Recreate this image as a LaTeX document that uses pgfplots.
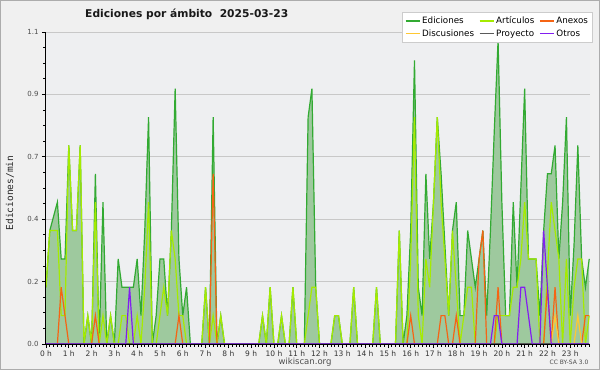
\documentclass[border=0pt]{standalone}
\usepackage{pgfplots}
\pgfplotsset{compat=1.18}
\usepackage{pgfplotstable}
\usepackage{fontspec}
\setmainfont{DejaVu Sans}
\newfontfamily\monofont{DejaVu Sans Mono}
\definecolor{bgout}{RGB}{240,240,240}
\definecolor{bgin}{RGB}{238,239,241}
\definecolor{cEd}{RGB}{50,170,50}
\definecolor{cFill}{RGB}{158,201,158}
\definecolor{cArt}{RGB}{165,235,0}
\definecolor{cAnx}{RGB}{245,100,20}
\definecolor{cDis}{RGB}{255,200,50}
\definecolor{cPro}{RGB}{90,90,90}
\definecolor{cOtr}{RGB}{130,30,240}
\definecolor{gridc}{RGB}{200,200,200}
\definecolor{shadowc}{RGB}{128,128,128}

\pgfplotstableread{
i ed art anx dis pro otr
0 0.2 0.2 0 0 0 0
1 0.4 0.4 0 0 0 0
2 0.45 0.4 0 0 0 0
3 0.5 0.4 0 0 0 0
4 0.3 0.1 0.2 0 0 0
5 0.3 0.1 0.1 0 0 0
6 0.7 0.7 0 0 0 0
7 0.4 0.4 0 0 0 0
8 0.4 0.4 0 0 0 0
9 0.7 0.7 0 0 0 0
10 0 0 0 0 0 0
11 0.1 0.1 0 0 0 0
12 0 0 0 0 0 0
13 0.6 0.5 0.1 0 0 0
14 0 0 0 0 0 0
15 0.5 0.1 0 0 0 0
16 0 0 0 0 0 0
17 0.1 0.1 0 0 0 0
18 0 0 0 0 0 0
19 0.3 0 0 0 0 0
20 0.2 0.1 0 0 0 0
21 0.2 0.1 0 0 0 0
22 0.2 0 0 0 0 0.2
23 0.2 0 0 0 0 0
24 0.3 0.1 0 0 0 0
25 0.1 0 0 0 0 0
26 0.4 0.2 0 0 0 0
27 0.8 0.5 0 0 0 0
28 0 0 0 0 0 0
29 0.1 0 0 0 0 0
30 0.3 0.1 0 0 0 0
31 0.3 0.2 0 0 0 0
32 0.1 0.1 0 0 0 0
33 0.4 0.4 0 0 0 0
34 0.9 0.3 0 0 0 0
35 0.3 0.1 0.1 0 0 0
36 0.1 0.1 0 0 0 0
37 0.2 0 0 0 0 0
38 0 0 0 0 0 0
39 0 0 0 0 0 0
40 0 0 0 0 0 0
41 0 0 0 0 0 0
42 0.2 0.2 0 0 0 0
43 0 0 0 0 0 0
44 0.8 0.1 0.6 0 0 0
45 0 0 0 0 0 0
46 0.1 0.1 0 0 0 0
47 0 0 0 0 0 0
48 0 0 0 0 0 0
49 0 0 0 0 0 0
50 0 0 0 0 0 0
51 0 0 0 0 0 0
52 0 0 0 0 0 0
53 0 0 0 0 0 0
54 0 0 0 0 0 0
55 0 0 0 0 0 0
56 0 0 0 0 0 0
57 0.1 0.1 0 0 0 0
58 0 0 0 0 0 0
59 0.2 0.2 0 0 0 0
60 0 0 0 0 0 0
61 0 0 0 0 0 0
62 0.1 0.1 0 0 0 0
63 0 0 0 0 0 0
64 0 0 0 0 0 0
65 0.2 0.2 0 0 0 0
66 0 0 0 0 0 0
67 0 0 0 0 0 0
68 0 0 0 0 0 0
69 0.8 0.1 0 0 0 0
70 0.9 0.2 0 0 0 0
71 0.2 0.2 0 0 0 0
72 0 0 0 0 0 0
73 0 0 0 0 0 0
74 0 0 0 0 0 0
75 0 0 0 0 0 0
76 0.1 0.1 0 0 0 0
77 0.1 0.1 0 0 0 0
78 0 0 0 0 0 0
79 0 0 0 0 0 0
80 0 0 0 0 0 0
81 0.2 0.2 0 0 0 0
82 0 0 0 0 0 0
83 0 0 0 0 0 0
84 0 0 0 0 0 0
85 0 0 0 0 0 0
86 0 0 0 0 0 0
87 0.2 0.2 0 0 0 0
88 0 0 0 0 0 0
89 0 0 0 0 0 0
90 0 0 0 0 0 0
91 0 0 0 0 0 0
92 0 0 0 0 0 0
93 0.4 0.4 0 0 0 0
94 0 0 0 0 0 0
95 0.1 0 0 0 0 0
96 0.4 0.3 0.1 0 0 0
97 1.0 0.8 0 0 0 0
98 0.2 0.1 0 0 0 0
99 0.1 0 0 0 0 0
100 0.6 0.3 0 0 0 0
101 0.3 0.2 0 0 0 0
102 0.5 0.5 0 0 0 0
103 0.8 0.8 0 0 0 0
104 0.6 0.5 0.1 0 0 0
105 0.35 0.3 0.1 0 0 0
106 0.1 0.1 0 0 0 0
107 0.4 0.4 0 0 0 0
108 0.5 0.2 0.1 0 0 0
109 0.1 0 0 0 0 0
110 0.1 0.1 0 0 0 0
111 0.4 0.2 0 0 0 0
112 0.3 0.2 0 0 0 0
113 0.2 0 0 0 0 0
114 0.3 0 0.3 0 0 0
115 0.4 0 0.4 0 0 0
116 0.1 0 0 0 0 0
117 0.4 0 0 0 0 0
118 0.75 0 0 0 0 0.1
119 1.07 0.1 0.2 0 0 0.1
120 0.5 0.1 0 0 0 0
121 0.1 0.1 0 0 0 0
122 0.1 0.1 0 0 0 0
123 0.5 0.2 0 0 0 0
124 0.2 0.2 0 0 0 0
125 0.55 0.3 0 0 0 0.2
126 0.9 0.5 0 0 0 0.2
127 0.3 0.3 0 0 0 0.1
128 0.3 0.3 0 0 0 0
129 0.3 0.3 0 0 0 0
130 0.1 0 0 0 0 0
131 0.4 0 0 0 0 0.4
132 0.6 0.25 0.2 0 0 0.2
133 0.6 0.5 0 0 0 0
134 0.7 0.4 0.2 0.1 0 0
135 0.3 0.3 0 0 0 0
136 0.5 0 0 0 0 0
137 0.8 0.3 0 0 0 0
138 0.1 0 0 0 0 0
139 0.35 0.2 0 0 0 0
140 0.7 0.3 0 0.1 0 0
141 0.3 0.3 0 0 0 0
142 0.2 0 0.1 0 0 0
143 0.3 0.1 0.1 0 0 0
}\data

\begin{document}
\begin{tikzpicture}[x=1pt,y=1pt]
\fill[bgout] (0,0) rectangle (600,370);
\draw[gray!65, line width=1.2pt] (0.6,0.6) rectangle (599.4,369.4);
\fill[shadowc] (401.7,328.2) rectangle (590.1,355.1);
\begin{axis}[
  at={(46pt,26pt)}, anchor=south west,
  scale only axis, width=544pt, height=312pt,
  xmin=0, xmax=143.2, ymin=0, ymax=1.1,
  axis background/.style={fill=bgin},
  axis on top,
  axis lines=left, axis line style={-, black, line width=1pt},
  tick align=outside,
  major tick length=4pt, minor tick length=2.5pt,
  tick style={black, line width=0.7pt},
  xtick={0,6,...,138},
  xticklabels={0 h,1 h,2 h,3 h,4 h,5 h,6 h,7 h,8 h,9 h,10 h,11 h,12 h,13 h,14 h,15 h,16 h,17 h,18 h,19 h,20 h,21 h,22 h,23 h},
  minor xtick={0,1,...,143},
  ytick={0,0.22,0.44,0.66,0.88,1.1},
  yticklabels={0.0,0.2,0.4,0.7,0.9,1.1},
  minor y tick num=3,
  xticklabel style={font=\fontsize{7.5}{8}\selectfont, text=black!80, yshift=1pt},
  yticklabel style={font=\fontsize{7}{8}\selectfont, text=black!70},
  no markers,
  legend columns=3,
  legend cell align=left,
  legend style={at={(1.005,1.0631)}, anchor=north east, draw=gray!40, fill=white,
    font=\fontsize{8.75}{9}\selectfont, inner xsep=2.5pt, inner ysep=2.2pt, row sep=0.3pt,
    /tikz/every even column/.append style={column sep=3pt}},
  legend image code/.code={\draw[#1, line width=1.1pt] (0pt,0pt) -- (14pt,0pt);},
]
\draw[gridc, line width=0.7pt] (axis cs:0,0.22) -- (axis cs:143.2,0.22);
\draw[gridc, line width=0.7pt] (axis cs:0,0.44) -- (axis cs:143.2,0.44);
\draw[gridc, line width=0.7pt] (axis cs:0,0.66) -- (axis cs:143.2,0.66);
\draw[gridc, line width=0.7pt] (axis cs:0,0.88) -- (axis cs:143.2,0.88);
\draw[gridc, line width=0.7pt] (axis cs:0,1.1) -- (axis cs:143.2,1.1);
\addplot[fill=cFill, draw=none, forget plot] table[x=i,y=ed]{\data} \closedcycle;
\addplot[color=cEd, line width=1.2pt] table[x=i,y=ed]{\data};
\addlegendentry{Ediciones}
\addplot[color=cArt, line width=1.2pt] table[x=i,y=art]{\data};
\addlegendentry{Artículos}
\addplot[color=cAnx, line width=1.2pt] table[x=i,y=anx]{\data};
\addlegendentry{Anexos}
\addplot[color=cDis, line width=1.2pt] table[x=i,y=dis]{\data};
\addlegendentry{Discusiones}
\addplot[color=cPro, line width=1.2pt] table[x=i,y=pro]{\data};
\addlegendentry{Proyecto}
\addplot[color=cOtr, line width=1.2pt] table[x=i,y=otr]{\data};
\addlegendentry{Otros}
\end{axis}
\node[anchor=west, inner sep=0pt, font=\bfseries\fontsize{10.7}{12}\selectfont, text=black!90] at (85,356) {Ediciones por ámbito\ \ 2025-03-23};
\node[rotate=90, font=\monofont\fontsize{9.5}{10}\selectfont, text=black!85] at (10,177) {Ediciones/min};
\node[font=\fontsize{8.5}{9}\selectfont, text=black!70] at (305,8) {wikiscan.org};
\node[font=\fontsize{6}{7}\selectfont, text=black!70] at (569,8) {CC BY-SA 3.0};
\end{tikzpicture}
\end{document}
